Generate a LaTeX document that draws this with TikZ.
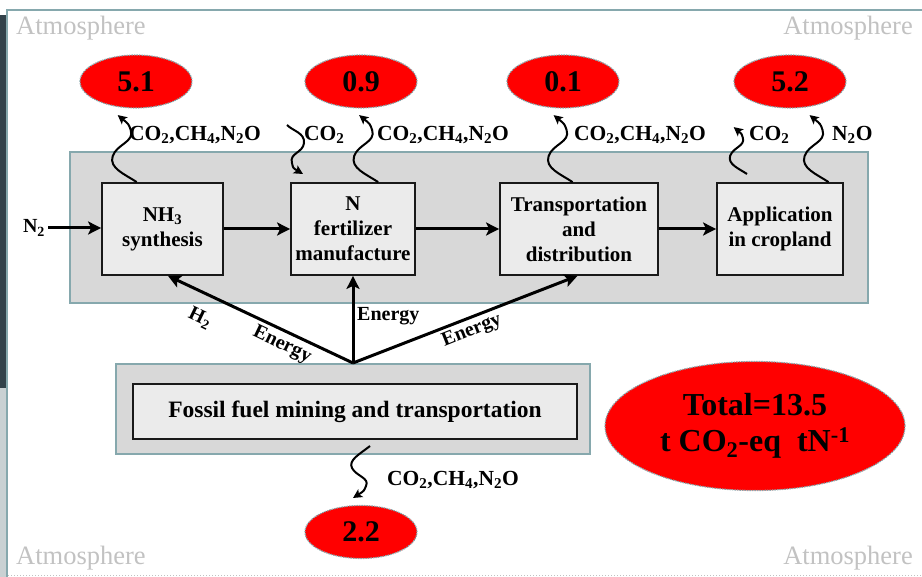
\documentclass[tikz,border=0pt]{standalone}
\usepackage{fontspec}
\setmainfont{Liberation Serif}
\usetikzlibrary{arrows.meta,shapes.geometric,calc}
\definecolor{teal1}{HTML}{86A8AD}
\definecolor{bandfill}{HTML}{D8D8D8}
\definecolor{boxfill}{HTML}{EBEBEB}
\definecolor{atm}{HTML}{C2C2C2}
\definecolor{redf}{HTML}{FF0000}
\definecolor{darkstrip}{HTML}{33424A}
\definecolor{strip2}{HTML}{C9D1D3}
\begin{document}
\begin{tikzpicture}[x=1pt,y=-1pt,
 band/.style={draw=teal1, line width=2pt, fill=bandfill, inner sep=0},
 procbox/.style={draw=black!90, line width=1.8pt, fill=boxfill, inner sep=0, align=center, font=\fontsize{21}{25}\selectfont\bfseries},
 val/.style={ellipse, fill=redf, draw=teal1, line width=1.2pt, dash pattern=on 1.5pt off 1pt, minimum width=112pt, minimum height=53pt, inner sep=0, font=\fontsize{30}{34}\selectfont\bfseries},
 flow/.style={line width=3pt, -{Stealth[length=13pt,width=13pt,inset=3pt]}},
 wavy/.style={line width=2pt, -{Stealth[length=9pt,width=9pt,inset=2pt]}},
 gas/.style={font=\fontsize{21.5}{24}\selectfont\bfseries, inner sep=0, anchor=west},
 atmo/.style={font=\fontsize{26.5}{28}\selectfont, text=atm, inner sep=0},
 elab/.style={font=\fontsize{20}{22}\selectfont\bfseries, inner sep=0},
 emitup/.pic={\draw[wavy] (0,0) .. controls (-12,-8) and (-28,-14) .. (-24,-26) .. controls (-20,-38) and (-2,-40) .. (-6,-52) .. controls (-8,-58) .. (-19,-67);},
 emitin/.pic={\draw[wavy] (0,0) .. controls (6,6) and (18,8) .. (17,18) .. controls (16,28) and (2,28) .. (5,38) .. controls (6,43) .. (16,49);},
 emitdown/.pic={\draw[wavy] (0,0) .. controls (-10,8) and (-22,14) .. (-18,22) .. controls (-14,30) and (0,32) .. (-4,40) .. controls (-6,45) .. (-17,52);},
]
\useasboundingbox (0,0) rectangle (922,577);
% frame
\fill[darkstrip] (0,15) rectangle (7,388);
\fill[strip2] (0,388) rectangle (7,577);
\draw[teal1, line width=2pt] (7,577) -- (7,10) -- (922,10);
\draw[atm, dotted, line width=1pt] (8,575) -- (922,575);
\node[atmo, anchor=west] (atl) at (16,28) {Atmosphere};
\node[atmo, anchor=east] (atr) at (913,28) {Atmosphere};
\node[atmo, anchor=west] (abl) at (16,558) {Atmosphere};
\node[atmo, anchor=east] (abr) at (913,558) {Atmosphere};
% bands
\node[band, minimum width=798pt, minimum height=151pt] (topband) at (469,227.5) {};
\node[band, minimum width=474pt, minimum height=90pt] (botband) at (353,409) {};
% process boxes
\node[procbox, minimum width=121pt, minimum height=92pt] (nh3) at (162.5,229) {NH\textsubscript{3}\\synthesis};
\node[procbox, minimum width=124pt, minimum height=92pt] (nfert) at (353,229) {N\\fertilizer\\manufacture};
\node[procbox, minimum width=158pt, minimum height=92pt] (trans) at (579,229) {Transportation\\and\\distribution};
\node[procbox, minimum width=126pt, minimum height=92pt] (app) at (780,229) {Application\\in cropland};
\node[procbox, minimum width=444pt, minimum height=55pt, font=\fontsize{23.5}{26}\selectfont\bfseries] (fossil) at (355,411.5) {Fossil fuel mining and transportation};
% N2 input and chain
\node[font=\fontsize{20}{22}\selectfont\bfseries, inner sep=0] (n2) at (34,228) {N\textsubscript{2}};
\draw[flow] ([xshift=3pt]n2.east) -- (n2.east -| nh3.west);
\draw[flow] (nh3) -- (nfert);
\draw[flow] (nfert) -- (trans);
\draw[flow] (trans) -- (app);
% energy arrows
\draw[flow] (botband.north) -- ($(nh3.south west)!0.545!(nh3.south east)$);
\draw[flow] (botband.north) -- (nfert.south);
\draw[flow] (botband.north) -- ($(trans.south west)!0.49!(trans.south east)$);
\node[elab, rotate=-25.7] (h2l) at (200,318) {H\textsubscript{2}};
\node[elab, rotate=-25.7] (en1) at (282,345) {Energy};
\node[elab, anchor=west] (en2) at (357,316) {Energy};
\node[elab, rotate=21.7] (en3) at (472,331) {Energy};
% value ellipses
\node[val] (v51) at (136,81.5) {5.1};
\node[val] (v09) at (361,81.5) {0.9};
\node[val] (v01) at (563,81.5) {0.1};
\node[val] (v52) at (790,81.5) {5.2};
\node[val] (v22) at (361,532) {2.2};
\node[val, minimum width=300pt, minimum height=129pt, align=center, font=\fontsize{32}{36}\selectfont\bfseries] (tot) at (755,426) {Total=13.5\\t CO\textsubscript{2}-eq\ \ tN\textsuperscript{-1}};
% emission squiggles
\coordinate (e1) at ($(nh3.north west)!0.29!(nh3.north east)$);
\coordinate (e2) at ($(nfert.north west)!0.70!(nfert.north east)$);
\coordinate (e3) at ($(trans.north west)!0.46!(trans.north east)$);
\coordinate (e4) at ($(app.north west)!0.88!(app.north east)$);
\coordinate (e5) at (747,174);
\coordinate (ein) at (287,125);
\coordinate (edn) at (370,446);
\pic at (e1) {emitup};
\pic at (e2) {emitup};
\pic at (e3) {emitup};
\pic at (e4) {emitup};
\path (e5) pic[scale=0.7] {emitup};
\pic at (ein) {emitin};
\pic at (edn) {emitdown};
% gas labels
\node[gas] (g1) at (129,135) {CO\textsubscript{2},CH\textsubscript{4},N\textsubscript{2}O};
\node[gas] (g2) at (304,135) {CO\textsubscript{2}};
\node[gas] (g3) at (377,135) {CO\textsubscript{2},CH\textsubscript{4},N\textsubscript{2}O};
\node[gas] (g4) at (574,135) {CO\textsubscript{2},CH\textsubscript{4},N\textsubscript{2}O};
\node[gas] (g5) at (749,135) {CO\textsubscript{2}};
\node[gas] (g6) at (832,135) {N\textsubscript{2}O};
\node[gas] (g7) at (387,480) {CO\textsubscript{2},CH\textsubscript{4},N\textsubscript{2}O};
\end{tikzpicture}
\end{document}
